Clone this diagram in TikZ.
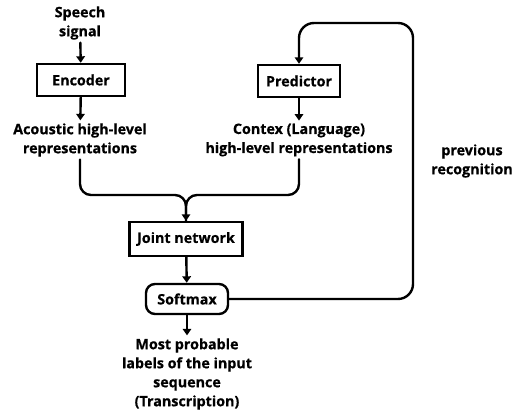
\documentclass[tikz,border=0pt]{standalone}
\usepackage{fontspec}
\setmainfont{Open Sans}[BoldFont={Open Sans Bold}, BoldFeatures={FakeBold=0.6}]
\usetikzlibrary{arrows.meta}
\begin{document}
\begin{tikzpicture}[x=1pt,y=-1pt,
  every node/.style={font=\bfseries\fontsize{14.3}{19}\selectfont, text=black},
  txt/.style={align=center, inner sep=0pt, outer ysep=3pt},
  box/.style={draw, line width=2.4pt, inner sep=0pt, minimum height=32pt},
  ln/.style={line width=2.4pt, line cap=round},
  arr/.style={ln, -{Triangle[width=8.5pt,length=6.5pt]}}]
\useasboundingbox (0,0) rectangle (518,411);
\node[txt] (sp) at (80,23) {Speech\\signal};
\node[box, minimum width=88pt] (enc) at (81,80) {Encoder};
\node[txt] (acou) at (80,140) {Acoustic high-level\\representations};
\node[box, minimum width=82pt] (pred) at (299,81) {Predictor};
\node[txt] (ctx) at (299,140) {Contex (Language)\\high-level representations};
\node[txt] (prev) at (472,161) {previous\\recognition};
\node[box, minimum width=113pt, minimum height=34pt] (joint) at (186,239) {Joint network};
\node[box, rounded corners=9pt, minimum width=82pt, minimum height=30pt] (soft) at (187,299) {Softmax};
\node[txt] (out) at (187,374) {Most probable\\labels of the input\\sequence\\(Transcription)};
\coordinate (mrg) at (186,195);
\coordinate (fbtop) at (413,23);
\draw[arr] (sp) -- (enc);
\draw[arr] (enc) -- (acou);
\draw[arr] (pred) -- (ctx);
\draw[ln, rounded corners=11pt] (acou.south) |- (mrg) -- (joint.north);
\draw[arr, rounded corners=11pt] (ctx.south) |- (mrg) -- (joint.north);
\draw[arr] (joint) -- (soft);
\draw[arr] (soft) -- (out);
\draw[arr, rounded corners=15pt] (soft.east) -| (fbtop) -| (pred.north);
\end{tikzpicture}
\end{document}
